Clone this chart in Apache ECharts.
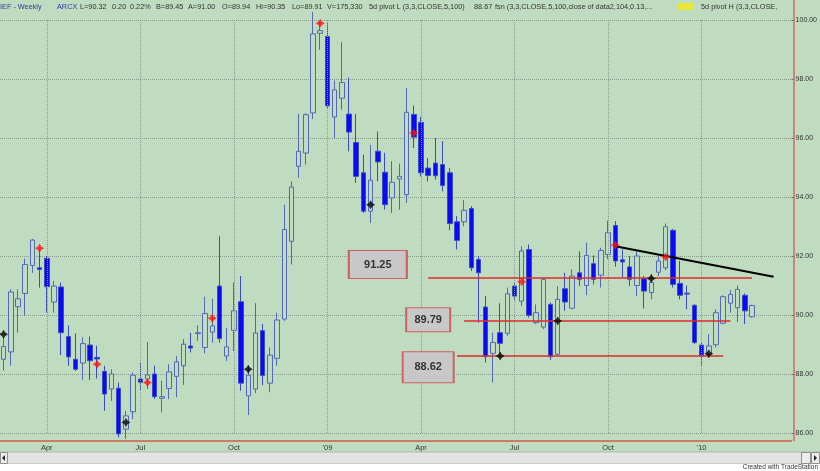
<!DOCTYPE html>
<html>
<head>
<meta charset="utf-8">
<script src="https://cdn.jsdelivr.net/npm/echarts@6/dist/echarts.min.js"></script>
<style>
  html, body { margin: 0; padding: 0; background: #c0dcc0; }
  #chart { width: 820px; height: 471px; }
</style>
</head>
<body>
<div id="chart"></div>
<script>
// weekly bars IEF, Feb 2008 - Feb 2010
const opens = [88.50, 88.75, 90.28, 90.73, 91.68, 91.60, 91.92, 90.44, 90.95, 89.27,
  88.50, 88.37, 88.98, 88.56, 88.09, 87.49, 87.52, 86.13, 86.72, 87.83,
  87.83, 88.00, 87.18, 87.51, 87.92, 88.28, 88.95, 89.37, 88.90, 89.42,
  90.98, 88.61, 89.48, 90.45, 87.26, 87.49, 89.47, 87.69, 88.53, 89.86,
  92.50, 95.04, 95.49, 96.85, 99.55, 99.44, 96.71, 97.35, 96.81, 95.85,
  94.82, 93.52, 95.55, 94.84, 93.97, 94.61, 94.08, 96.80, 96.53, 94.98,
  95.15, 95.10, 94.82, 93.16, 93.16, 93.61, 91.88, 90.27, 88.70, 89.40,
  89.38, 90.98, 90.47, 92.22, 89.74, 89.59, 90.36, 88.67, 90.89, 90.23,
  91.43, 91.00, 91.74, 91.35, 92.05, 93.03, 91.87, 91.63, 91.00, 91.23,
  90.76, 91.45, 91.60, 92.87, 91.07, 90.74, 90.33, 88.98, 88.67, 88.99,
  89.72, 90.40, 90.25, 90.67, 89.94];
const closes = [88.93, 90.78, 90.55, 91.71, 92.54, 91.54, 90.96, 90.98, 89.40, 88.58,
  88.16, 89.03, 88.45, 88.51, 87.32, 88.00, 85.97, 86.58, 87.96, 87.72,
  87.97, 87.23, 87.23, 88.07, 88.41, 89.01, 88.88, 89.40, 90.05, 89.63,
  89.20, 88.92, 90.14, 87.69, 87.96, 89.39, 87.95, 88.64, 89.83, 92.90,
  94.34, 95.55, 96.79, 99.53, 99.64, 97.09, 97.63, 97.88, 96.20, 94.70,
  93.52, 94.57, 95.19, 93.74, 94.50, 94.70, 96.87, 96.03, 94.82, 94.73,
  94.72, 94.39, 93.10, 92.53, 93.55, 91.60, 91.43, 88.59, 89.07, 89.04,
  90.72, 90.64, 92.17, 89.99, 90.08, 91.21, 88.59, 90.53, 90.44, 91.32,
  91.21, 92.02, 91.21, 92.19, 92.79, 91.83, 91.80, 91.21, 92.00, 90.81,
  91.10, 91.83, 92.99, 91.04, 90.67, 90.71, 89.07, 88.62, 88.95, 90.08,
  90.62, 90.70, 90.87, 90.14, 90.32];
const lows = [88.11, 88.28, 89.40, 89.99, 91.43, 90.93, 90.08, 90.08, 88.64, 88.28,
  88.11, 87.80, 87.80, 87.85, 86.75, 87.09, 85.85, 85.80, 86.47, 87.43,
  87.49, 87.15, 86.70, 87.15, 87.21, 87.63, 88.73, 89.12, 88.70, 89.06,
  89.06, 88.44, 88.78, 87.43, 86.61, 87.35, 87.62, 87.38, 88.28, 89.80,
  91.71, 94.65, 95.10, 96.64, 98.99, 97.01, 96.00, 96.96, 95.55, 94.48,
  93.46, 93.12, 94.53, 93.57, 93.46, 93.57, 93.80, 95.66, 94.70, 94.53,
  94.59, 94.19, 92.87, 92.22, 93.01, 91.49, 89.74, 88.39, 87.71, 88.67,
  89.29, 90.47, 90.30, 89.91, 89.69, 89.52, 88.48, 88.61, 90.14, 90.19,
  90.98, 90.67, 91.04, 90.93, 91.90, 91.64, 91.26, 90.98, 90.64, 90.22,
  90.53, 91.32, 91.52, 90.93, 90.53, 90.19, 89.01, 88.28, 88.57, 88.90,
  89.69, 90.08, 89.76, 89.69, 89.91];
const highs = [89.24, 90.87, 90.87, 91.91, 92.58, 92.20, 92.00, 91.15, 91.10, 89.65,
  89.38, 89.24, 89.27, 88.96, 88.28, 88.16, 87.71, 86.75, 88.05, 88.40,
  89.09, 88.28, 87.77, 88.33, 88.61, 89.18, 89.40, 89.65, 90.62, 90.55,
  92.67, 89.57, 91.10, 91.32, 88.28, 90.40, 89.69, 88.90, 90.08, 93.74,
  94.53, 96.82, 96.84, 100.27, 99.95, 99.89, 97.95, 99.25, 98.05, 96.82,
  95.43, 95.77, 96.22, 95.50, 95.21, 95.13, 97.69, 97.10, 96.71, 95.32,
  96.00, 95.89, 94.98, 93.35, 93.89, 93.69, 92.00, 90.64, 89.40, 90.40,
  90.93, 91.10, 92.33, 92.39, 90.36, 91.26, 90.42, 90.98, 91.43, 91.55,
  92.16, 92.45, 92.02, 92.28, 93.20, 93.18, 92.22, 92.00, 92.22, 91.32,
  91.38, 92.05, 93.10, 92.92, 91.83, 91.00, 90.36, 89.07, 89.35, 90.19,
  90.67, 90.85, 91.00, 90.73, 90.35];

// 5d pivot markers
const pivotHighIdx = [5, 13, 20, 29, 44, 57, 72, 85, 92];
const pivotHighVal = [92.26, 88.33, 87.71, 89.89, 99.89, 96.17, 91.13, 92.37, 91.97];
const pivotLowIdx = [0, 17, 34, 51, 69, 77, 90, 98];
const pivotLowVal = [89.35, 86.36, 88.16, 93.74, 88.61, 89.80, 91.24, 88.69];

// support / resistance levels and trend line
const levels = [91.25, 89.79, 88.62];
const levelFrom = [59, 64, 63];
const levelTo = [104, 101, 100];
const trendStart = [85, 92.33];
const trendEnd = [106.5, 91.30];
const lastPrice = 90.32;

// x axis tick labels (bar index -> text)
const quarterIdx = [6, 19, 32, 45, 58, 71, 84, 97];
const quarterText = ['Apr', 'Jul', 'Oct', "'09", 'Apr', 'Jul', 'Oct', "'10"];

// weekly categories, a few empty weeks at the right
const weeks = [];
const t0 = Date.UTC(2008, 1, 22);
for (let i = 0; i < 110; i++) {
  weeks.push(new Date(t0 + i * 7 * 86400000).toISOString().slice(0, 10));
}
const monthIdx = [];
for (let i = 1; i < weeks.length; i++) {
  if (weeks[i].slice(5, 7) !== weeks[i - 1].slice(5, 7)) monthIdx.push(i);
}

const candles = opens.map((o, i) => [o, closes[i], lows[i], highs[i]]);
const star = 'path://M5 0L6.9 3.1L10 5L6.9 6.9L5 10L3.1 6.9L0 5L3.1 3.1Z';

// label boxes placement (index, value) and size
const boxPos = [[52.08, 91.71], [59.07, 89.84], [58.56, 88.23]];
const boxSize = [[58, 28], [44, 24], [51, 31]];

const hdrFont = '7.3px "Liberation Sans", Arial, sans-serif';
const header = [
  [0, 'IEF - Weekly', '#2a3c9c'], [57, 'ARCX', '#2a3c9c'], [80, 'L=90.32', '#333'],
  [112, '0.20', '#333'], [130, '0.22%', '#333'], [156, 'B=89.45', '#333'],
  [188, 'A=91.00', '#333'], [222, 'O=89.94', '#333'], [256, 'Hi=90.35', '#333'],
  [292, 'Lo=89.91', '#333'], [327, 'V=175,330', '#333'],
  [369, '5d pivot L (3,3,CLOSE,5,100)', '#333'], [474, '88.67', '#333'],
  [495, 'fsn (3,3,CLOSE,5,100,close of data2,104,0.13,...', '#333'],
  [701, '5d pivot H (3,3,CLOSE,', '#333']
];

const chart = echarts.init(document.getElementById('chart'));
const option = {
  backgroundColor: '#c0dcc0',
  animation: false,
  grid: { left: 0, right: 26, top: 20, bottom: 38, containLabel: false },
  xAxis: {
    type: 'category',
    data: weeks,
    boundaryGap: true,
    offset: 8,
    axisLine: { lineStyle: { color: '#d45a4a', width: 1.5 } },
    axisTick: {
      alignWithLabel: true,
      length: 2,
      interval: (i) => monthIdx.indexOf(i) >= 0,
      lineStyle: { color: '#d45a4a' }
    },
    axisLabel: {
      interval: (i) => quarterIdx.indexOf(i) >= 0,
      formatter: (v, i) => {
        const k = quarterIdx.indexOf(i);
        return k >= 0 ? quarterText[k] : '';
      },
      color: '#333',
      fontSize: 7.5,
      margin: 3,
      fontFamily: 'Liberation Sans'
    },
    splitLine: { show: false }
  },
  yAxis: {
    type: 'value',
    position: 'right',
    min: 86,
    max: 100,
    interval: 2,
    axisLine: { show: false },
    axisTick: { show: true, length: 3, lineStyle: { color: '#666' } },
    axisLabel: {
      color: '#333',
      fontSize: 7,
      margin: 4,
      fontFamily: 'Liberation Sans',
      formatter: (v) => v.toFixed(2)
    },
    splitLine: { lineStyle: { color: '#8a9a8a', type: 'dotted', width: 1 } }
  },
  series: [
    {
      // vertical quarter grid lines
      type: 'line',
      data: [],
      z: 1,
      silent: true,
      markLine: {
        silent: true,
        symbol: ['none', 'none'],
        label: { show: false },
        lineStyle: { color: '#8a9a8a', type: 'dotted', width: 1 },
        data: quarterIdx.map((i) => ({ xAxis: i }))
      }
    },
    {
      type: 'candlestick',
      data: candles,
      z: 3,
      clip: false,
      barWidth: 5,
      itemStyle: {
        color: '#c0dcc0',
        borderColor: '#5468b8',
        color0: '#0a0af5',
        borderColor0: '#3a4cc4',
        borderWidth: 1
      }
    },
    {
      type: 'scatter',
      z: 5,
      symbol: star,
      symbolSize: 9,
      itemStyle: { color: '#ff1010' },
      data: pivotHighIdx.map((i, k) => [i, pivotHighVal[k]])
    },
    {
      type: 'scatter',
      z: 5,
      symbol: star,
      symbolSize: 9,
      itemStyle: { color: '#000' },
      data: pivotLowIdx.map((i, k) => [i, pivotLowVal[k]])
    },
    {
      type: 'line',
      data: [],
      z: 4,
      markLine: {
        silent: true,
        symbol: ['none', 'none'],
        label: { show: false },
        data: levels.map((v, k) => [
          { coord: [levelFrom[k], v], lineStyle: { color: '#e02a2a', width: 1.5, type: 'solid' } },
          { coord: [levelTo[k], v] }
        ]).concat([[
          { coord: trendStart, lineStyle: { color: '#000', width: 2, type: 'solid' } },
          { coord: trendEnd }
        ], [
          {
            yAxis: lastPrice,
            lineStyle: { opacity: 0 },
            label: {
              show: true,
              position: 'end',
              distance: 1,
              formatter: lastPrice.toFixed(2),
              color: '#fff',
              backgroundColor: '#1a1aff',
              padding: [1, 4, 1, 4],
              fontSize: 7,
              fontFamily: 'Liberation Sans',
              offset: [0, -4]
            }
          },
          { x: 794, yAxis: lastPrice }
        ]])
      },
      markPoint: {
        silent: true,
        data: levels.map((v, k) => ({
          coord: boxPos[k],
          value: v.toFixed(2),
          symbol: 'rect',
          symbolSize: boxSize[k],
          itemStyle: { color: '#c8c8c8', borderColor: '#d06060', borderWidth: 1.5 },
          label: {
            show: true,
            position: 'inside',
            formatter: v.toFixed(2),
            color: '#333',
            fontWeight: 'bold',
            fontSize: 11,
            fontFamily: 'Liberation Sans'
          }
        }))
      }
    }
  ],
  graphic: [
    { type: 'line', z: 100, shape: { x1: 794, y1: 0, x2: 794, y2: 441 }, style: { stroke: '#d46a5a', lineWidth: 1.5 } },
    { type: 'rect', z: 100, shape: { x: 0, y: 452, width: 820, height: 12 }, style: { fill: '#e4e4e4', stroke: '#b4b4b4', lineWidth: 1 } },
    { type: 'rect', z: 101, shape: { x: 0.5, y: 452.5, width: 7, height: 11 }, style: { fill: '#ececec', stroke: '#909090', lineWidth: 1 } },
    { type: 'polygon', z: 102, shape: { points: [[5, 455], [2, 458], [5, 461]] }, style: { fill: '#222' } },
    { type: 'rect', z: 101, shape: { x: 801.5, y: 452.5, width: 9, height: 11 }, style: { fill: '#ececec', stroke: '#909090', lineWidth: 1 } },
    { type: 'rect', z: 101, shape: { x: 811.5, y: 452.5, width: 8, height: 11 }, style: { fill: '#ececec', stroke: '#909090', lineWidth: 1 } },
    { type: 'polygon', z: 102, shape: { points: [[814, 455], [817, 458], [814, 461]] }, style: { fill: '#222' } },
    { type: 'rect', z: 100, shape: { x: 0, y: 464, width: 820, height: 7 }, style: { fill: '#ffffff' } },
    { type: 'text', z: 101, style: { x: 818, y: 467.5, text: 'Created with TradeStation', fill: '#333', font: '6.5px "Liberation Sans", Arial, sans-serif', align: 'right', verticalAlign: 'middle' } }
  ].concat(header.map((h) => ({
    type: 'text', z: 100,
    style: { x: h[0], y: 6.5, text: h[1], fill: h[2], font: hdrFont, verticalAlign: 'middle' }
  }))).concat([
    { type: 'rect', z: 100, shape: { x: 677, y: 3, width: 16, height: 7 }, style: { fill: '#e8e83a' } }
  ])
};
chart.setOption(option);
</script>
</body>
</html>
